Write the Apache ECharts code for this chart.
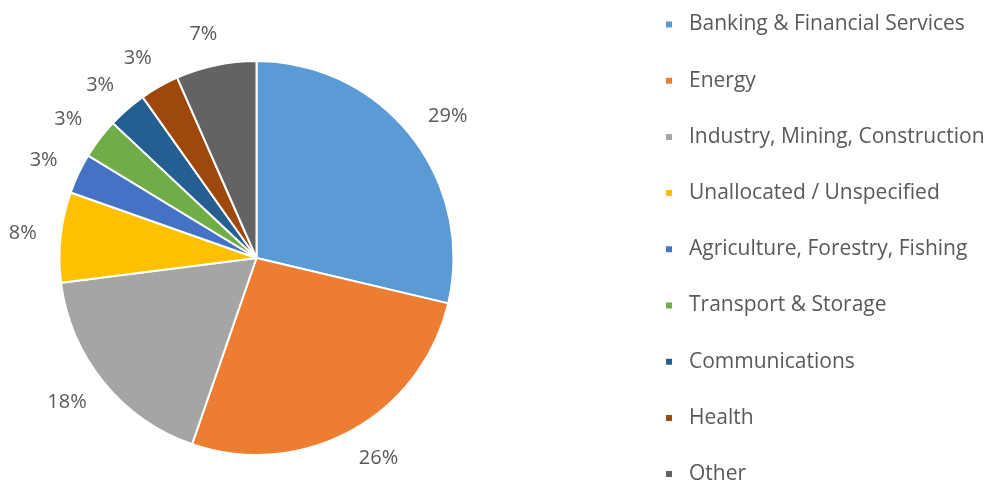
<!DOCTYPE html>
<html>
<head>
<meta charset="utf-8">
<script src="https://cdn.jsdelivr.net/npm/echarts@6/dist/echarts.min.js"></script>
<style>
  html, body { margin: 0; padding: 0; background: #fff; }
  #chart { width: 991px; height: 481px; }
</style>
</head>
<body>
<div id="chart"></div>
<script>
// sectors, slice sizes, printed labels
var sectors = [
  'Banking & Financial Services',
  'Energy',
  'Industry, Mining, Construction',
  'Unallocated / Unspecified',
  'Agriculture, Forestry, Fishing',
  'Transport & Storage',
  'Communications',
  'Health',
  'Other'
]
var shares = [28.7, 26.6, 17.7, 7.4, 3.3, 3.3, 3.2, 3.2, 6.6]
var pctLabels = ['29%', '26%', '18%', '8%', '3%', '3%', '3%', '3%', '7%']
var colors = ['#5B9BD5', '#ED7D31', '#A5A5A5', '#FFC000', '#4472C4', '#70AD47', '#255E91', '#9E480E', '#636363']

var chart = echarts.init(document.getElementById('chart'))
chart.setOption({
  animation: false,
  color: colors,
  legend: {
    orient: 'vertical',
    left: 664,
    top: 14,
    height: 600, // keep all nine in one column
    padding: 0,
    icon: 'rect',
    itemWidth: 8,
    itemHeight: 8,
    itemGap: 35.2,
    textStyle: {
      fontFamily: 'Open Sans',
      fontSize: 21,
      color: '#595959',
      padding: [0, 0, 0, 11]
    },
    data: sectors
  },
  series: [{
    type: 'pie',
    center: [256.5, 258],
    radius: 197,
    startAngle: 90,
    clockwise: true,
    bleedMargin: 0,
    itemStyle: {
      borderColor: '#fff',
      borderWidth: 2
    },
    label: {
      position: 'outside',
      fontFamily: 'Open Sans',
      fontSize: 20,
      color: '#595959',
      overflow: 'none',
      distanceToLabelLine: -8,
      formatter: function(p) {
        return pctLabels[p.dataIndex]
      }
    },
    labelLine: {
      show: false,
      length: 32,
      length2: 0
    },
    emphasis: { disabled: true },
    data: sectors.map(function(name, i) {
      return { name: name, value: shares[i] }
    })
  }]
})
</script>
</body>
</html>
